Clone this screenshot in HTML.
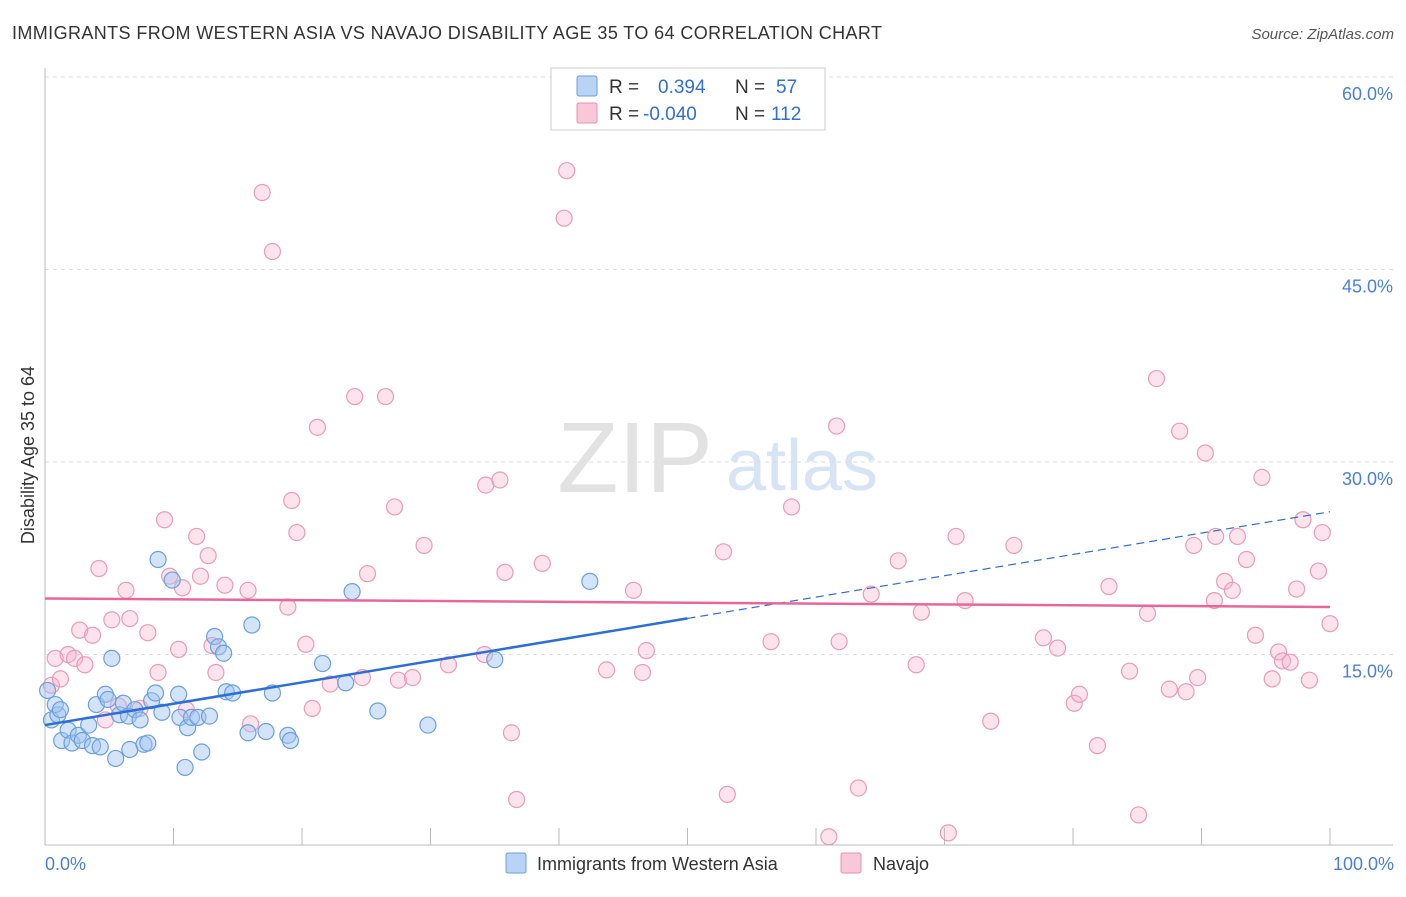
<!DOCTYPE html>
<html><head><meta charset="utf-8"><style>
body{margin:0;background:#fff;font-family:"Liberation Sans",sans-serif;}
svg text{font-family:"Liberation Sans",sans-serif;}
</style></head><body>
<svg id="chart" width="1406" height="892" viewBox="0 0 1406 892">
<text x="12" y="39" font-size="18" fill="#333" textLength="870">IMMIGRANTS FROM WESTERN ASIA VS NAVAJO DISABILITY AGE 35 TO 64 CORRELATION CHART</text>
<text x="1394" y="39" font-size="15" fill="#555" font-style="italic" text-anchor="end">Source: ZipAtlas.com</text>
<g>
<text x="635" y="492" font-size="100" fill="#e2e2e2" font-family="Liberation Serif" text-anchor="middle">ZIP</text>
<text x="802" y="490" font-size="72" fill="#d6e4f5" text-anchor="middle">atlas</text>
</g>
<g id="grid"></g>
<g id="axes"></g>
<g id="points"></g>
<g id="trends"></g>
<text transform="translate(34,455) rotate(-90)" font-size="18" fill="#333" text-anchor="middle">Disability Age 35 to 64</text>
<text x="45" y="870" font-size="18" fill="#4a7fd8">0.0%</text>
<text x="1394" y="870" font-size="18" fill="#4a7fd8" text-anchor="end">100.0%</text>
<g>
<rect x="551" y="68" width="274" height="62" fill="#fff" stroke="#ccc"/>
<rect x="577" y="76" width="20" height="20" fill="#b8d3f5" stroke="#6a9fe0" rx="2"/>
<rect x="577" y="103" width="20" height="20" fill="#f8c8d8" stroke="#e890b0" rx="2"/>
<text x="609" y="93" font-size="19" fill="#333">R =</text>
<text x="658" y="93" font-size="19" fill="#2f6fd6">0.394</text>
<text x="735" y="93" font-size="19" fill="#333">N =</text>
<text x="776" y="93" font-size="19" fill="#2f6fd6">57</text>
<text x="609" y="120" font-size="19" fill="#333">R =</text>
<text x="643" y="120" font-size="19" fill="#2f6fd6">-0.040</text>
<text x="735" y="120" font-size="19" fill="#333">N =</text>
<text x="771" y="120" font-size="19" fill="#2f6fd6">112</text>
</g>
<g>
<rect x="506" y="853" width="20" height="20" fill="#b8d3f5" stroke="#6a9fe0" rx="2"/>
<text x="537" y="870" font-size="18" fill="#333">Immigrants from Western Asia</text>
<rect x="841" y="853" width="20" height="20" fill="#f8c8d8" stroke="#e890b0" rx="2"/>
<text x="873" y="870" font-size="18" fill="#333">Navajo</text>
</g>
</svg>
<script>
const yTicks=[15,30,45,60];
const yTickLabels=["15.0%","30.0%","45.0%","60.0%"];
const xTicks=[0,10,20,30,40,50,60,70,80,90,100];
const blueX=[0.5,1.0,0.8,0.2,1.3,1.8,2.1,2.6,2.9,3.4,3.7,4.3,4.0,4.7,4.9,5.2,5.5,5.8,6.1,6.5,6.6,7.0,7.4,7.7,8.0,8.3,8.6,9.1,8.8,9.9,10.4,10.5,10.9,11.1,11.4,11.9,12.2,12.8,13.2,13.5,13.9,14.1,14.6,15.8,16.1,17.2,17.7,18.9,19.1,21.6,23.4,23.9,25.9,29.8,35.0,42.4,1.2];
const blueY=[9.9,10.3,11.1,12.2,8.3,9.1,8.1,8.7,8.3,9.5,7.9,7.8,11.1,11.9,11.5,14.7,6.9,10.3,11.2,10.2,7.6,10.7,9.9,8.0,8.1,11.4,12.0,10.5,22.4,20.8,11.9,10.1,6.2,9.3,10.1,10.1,7.4,10.2,16.4,15.6,15.1,12.1,12.0,8.9,17.3,9.0,12.0,8.7,8.3,14.3,12.8,19.9,10.6,9.5,14.6,20.7,10.7];
const pinkX=[0.5,0.8,1.2,1.8,2.3,2.7,3.1,3.7,4.2,4.7,5.2,5.7,6.3,6.6,7.4,8.0,8.8,9.3,9.7,10.4,10.7,11.0,11.8,12.1,12.7,13.0,13.3,14.0,15.8,16.0,16.9,17.7,18.9,19.2,19.6,20.3,20.8,21.2,22.2,24.1,24.7,25.1,26.5,27.2,27.5,28.6,29.5,31.4,34.2,34.3,35.4,35.8,36.3,36.7,38.7,40.4,40.6,43.7,45.8,46.5,46.8,52.8,53.1,56.5,58.1,61.0,61.6,61.8,63.3,64.3,66.4,67.8,68.2,70.3,70.9,71.6,73.6,75.4,77.7,78.8,80.1,80.5,81.9,82.8,84.4,85.1,85.8,86.5,87.5,88.3,88.8,89.4,89.7,90.3,91.0,91.1,91.8,92.4,92.8,93.5,94.2,94.7,95.5,96.0,96.3,96.9,97.4,97.9,98.4,99.1,99.4,100.0];
const pinkY=[12.6,14.7,13.1,15.0,14.7,16.9,14.2,16.5,21.7,9.9,17.7,11.0,20.0,17.8,10.8,16.7,13.6,25.5,21.1,15.4,20.2,10.7,24.2,21.1,22.7,15.7,13.6,20.4,20.0,9.6,51.0,46.4,18.7,27.0,24.5,15.8,10.8,32.7,12.7,35.1,13.2,21.3,35.1,26.5,13.0,13.2,23.5,14.2,15.0,28.2,28.6,21.4,8.9,3.7,22.1,49.0,52.7,13.8,20.0,13.6,15.3,23.0,4.1,16.0,26.5,0.8,32.8,16.0,4.6,19.7,22.3,14.2,18.3,1.1,24.2,19.2,9.8,23.5,16.3,15.5,11.2,11.9,7.9,20.3,13.7,2.5,18.2,36.5,12.3,32.4,12.1,23.5,13.2,30.7,19.2,24.2,20.7,20.0,24.2,22.4,16.5,28.8,13.1,15.2,14.5,14.4,20.1,25.5,13.0,21.5,24.5,17.4];
const X0=45,X1=1330,Y0=847,YPX=192.5/15;
const sx=v=>X0+(X1-X0)*v/100, sy=v=>Y0-v*YPX;
const NS="http://www.w3.org/2000/svg";
function mk(tag,attrs,parent){const e=document.createElementNS(NS,tag);for(const k in attrs)e.setAttribute(k,attrs[k]);parent.appendChild(e);return e;}
const grid=document.getElementById('grid'),axes=document.getElementById('axes');
yTicks.forEach((t,i)=>{
 const l=mk('line',{x1:45,x2:1393,y1:sy(t),y2:sy(t),stroke:'#ddd','stroke-dasharray':'4,4'},grid);
 
 
 const tx=mk('text',{x:1393,y:sy(t)+23,'font-size':18,fill:'#4a7fd8','text-anchor':'end'},axes);
 tx.textContent=yTickLabels[i];
 
 
});
const ax=mk('line',{x1:45,x2:1393,y1:845,y2:845,stroke:'#bbb'},axes);


const ay=mk('line',{x1:45,x2:45,y1:68,y2:845,stroke:'#bbb'},axes);


xTicks.forEach(t=>{
 const l=mk('line',{x1:sx(t),x2:sx(t),y1:828,y2:845,stroke:'#bbb'},axes);
 
 
});
const pts=document.getElementById('points');
pinkX.forEach((x,i)=>{
 const c=mk('circle',{cx:sx(x),cy:sy(pinkY[i]),r:8,fill:'rgba(245,175,200,0.35)',stroke:'#eb9ab8','stroke-width':1.2},pts);
 
 
});
blueX.forEach((x,i)=>{
 const c=mk('circle',{cx:sx(x),cy:sy(blueY[i]),r:8,fill:'rgba(160,196,240,0.45)',stroke:'#6a9fe0','stroke-width':1.2},pts);
 
 
});
function fit(xs,ys){const n=xs.length;let mx=0,my=0;xs.forEach((x,i)=>{mx+=x;my+=ys[i]});mx/=n;my/=n;let a=0,b=0;xs.forEach((x,i)=>{a+=(x-mx)*(ys[i]-my);b+=(x-mx)**2});const s=a/b;return [s,my-s*mx];}
const tr=document.getElementById('trends');
const bf=fit(blueX,blueY), pf=fit(pinkX,pinkY);
const b1=mk('line',{x1:sx(0),y1:sy(bf[1]),x2:sx(50),y2:sy(bf[1]+bf[0]*50),stroke:'#2b6fd6','stroke-width':2.5},tr);


const b2=mk('line',{x1:sx(50),y1:sy(bf[1]+bf[0]*50),x2:sx(100),y2:sy(bf[1]+bf[0]*100),stroke:'#2b6fd6','stroke-width':1.2,'stroke-dasharray':'8,5'},tr);


const p1=mk('line',{x1:sx(0),y1:sy(pf[1]),x2:sx(100),y2:sy(pf[1]+pf[0]*100),stroke:'#e8679a','stroke-width':2.5},tr);


</script>
</body></html>
